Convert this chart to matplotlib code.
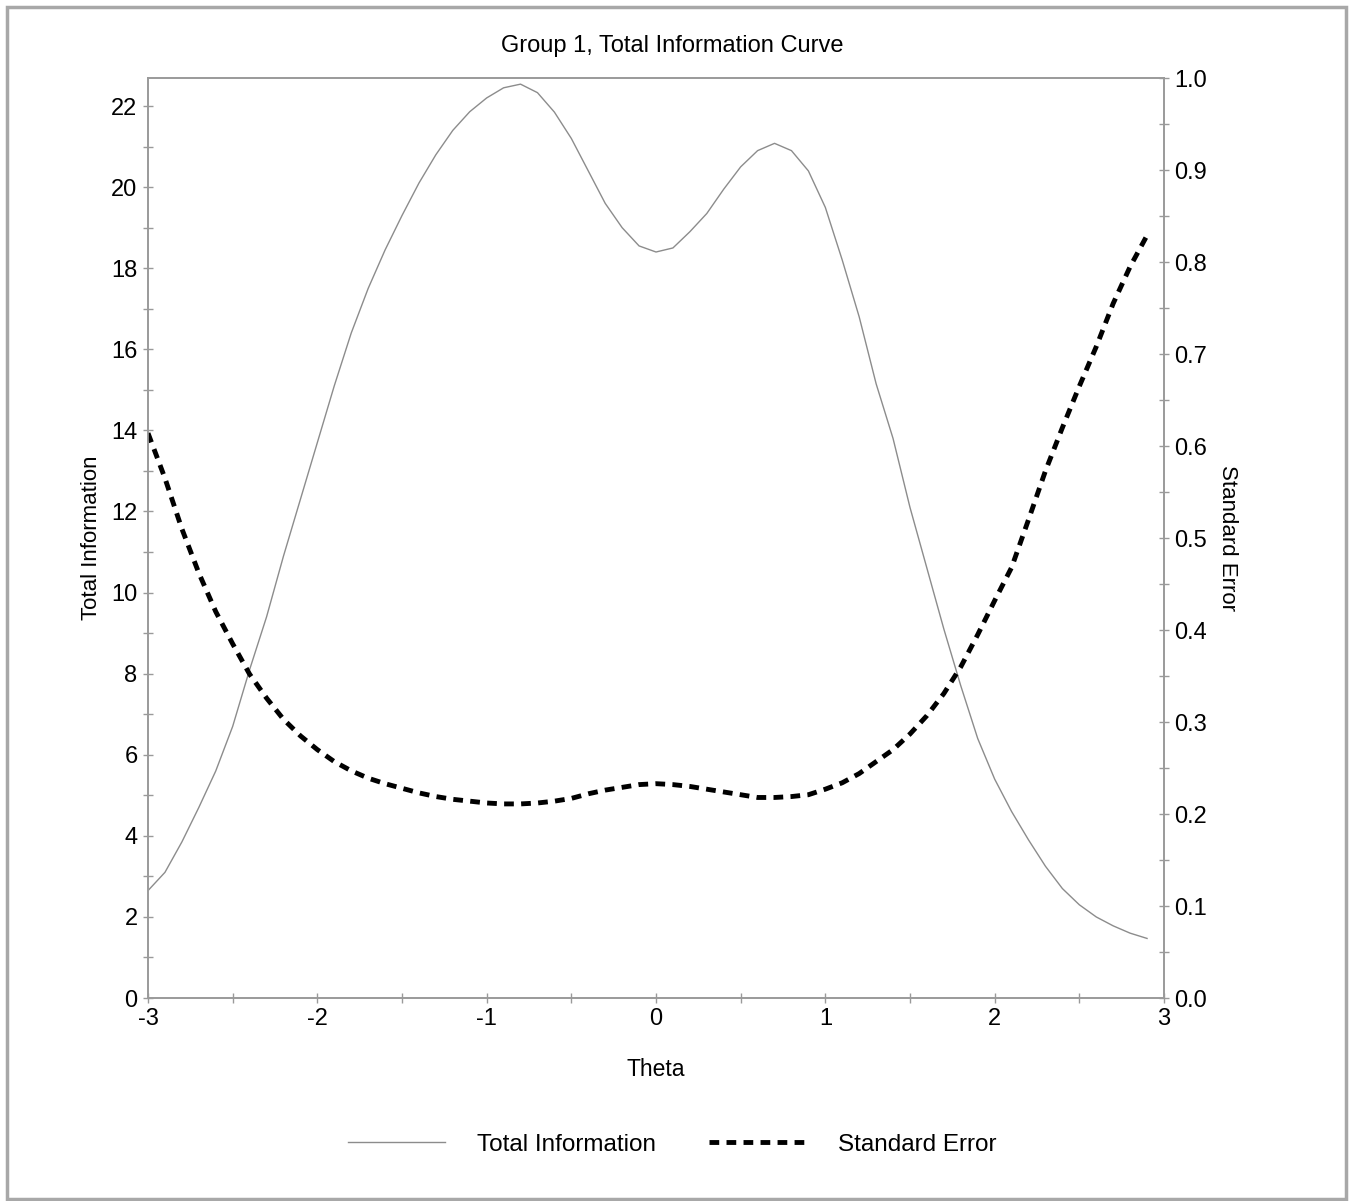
import matplotlib
matplotlib.use('Agg')
import matplotlib.pyplot as plt
from matplotlib.ticker import MultipleLocator, FormatStrFormatter
from matplotlib.patches import Rectangle

plt.rcParams['font.family'] = ['Liberation Sans', 'DejaVu Sans']
plt.rcParams['axes.unicode_minus'] = False

# theta grid (step 0.1)
theta = [-3.0, -2.9, -2.8, -2.7, -2.6, -2.5, -2.4, -2.3, -2.2, -2.1,
         -2.0, -1.9, -1.8, -1.7, -1.6, -1.5, -1.4, -1.3, -1.2, -1.1,
         -1.0, -0.9, -0.8, -0.7, -0.6, -0.5, -0.4, -0.3, -0.2, -0.1,
         0.0, 0.1, 0.2, 0.3, 0.4, 0.5, 0.6, 0.7, 0.8, 0.9,
         1.0, 1.1, 1.2, 1.3, 1.4, 1.5, 1.6, 1.7, 1.8, 1.9,
         2.0, 2.1, 2.2, 2.3, 2.4, 2.5, 2.6, 2.7, 2.8, 2.9]

total_info = [2.65, 3.1, 3.85, 4.7, 5.6, 6.7, 8.1, 9.4, 10.9, 12.3,
              13.7, 15.1, 16.4, 17.5, 18.45, 19.3, 20.1, 20.8, 21.4, 21.86,
              22.2, 22.45, 22.54, 22.33, 21.85, 21.2, 20.4, 19.6, 19.0, 18.55,
              18.4, 18.5, 18.9, 19.35, 19.95, 20.5, 20.9, 21.08, 20.9, 20.4,
              19.5, 18.2, 16.8, 15.15, 13.8, 12.1, 10.6, 9.1, 7.7, 6.4,
              5.4, 4.6, 3.9, 3.25, 2.7, 2.3, 2.0, 1.78, 1.6, 1.47]

std_error = [0.614, 0.565, 0.51, 0.462, 0.42, 0.385, 0.352, 0.326, 0.303, 0.285,
             0.27, 0.257, 0.247, 0.239, 0.233, 0.228, 0.223, 0.219, 0.216, 0.214,
             0.212, 0.211, 0.211, 0.212, 0.214, 0.217, 0.222, 0.226, 0.229, 0.232,
             0.233, 0.232, 0.23, 0.227, 0.224, 0.221, 0.218, 0.218, 0.219, 0.221,
             0.227, 0.234, 0.244, 0.257, 0.27, 0.287, 0.307, 0.331, 0.36, 0.395,
             0.432, 0.468, 0.52, 0.573, 0.62, 0.665, 0.708, 0.755, 0.795, 0.829]

gray = '#9a9a9a'

fig = plt.figure(figsize=(13.53, 12.01), dpi=100)
ax = fig.add_axes([0.1094, 0.169, 0.7509, 0.766])
ax2 = ax.twinx()

l1, = ax.plot(theta, total_info, color='#8c8c8c', lw=1.0, label='Total Information')
l2, = ax2.plot(theta, std_error, color='black', lw=3.5, dashes=(2, 1.5),
               label='Standard Error')

ax.set_xlim(-3, 3)
ax.set_ylim(0, 22.69)
ax2.set_ylim(0, 1.0)

ax.xaxis.set_major_locator(MultipleLocator(1))
ax.xaxis.set_minor_locator(MultipleLocator(0.5))
ax.yaxis.set_major_locator(MultipleLocator(2))
ax.yaxis.set_minor_locator(MultipleLocator(1))
ax2.yaxis.set_major_locator(MultipleLocator(0.1))
ax2.yaxis.set_minor_locator(MultipleLocator(0.05))
ax2.yaxis.set_major_formatter(FormatStrFormatter('%.1f'))

for a in (ax, ax2):
    for s in a.spines.values():
        s.set_color(gray)
        s.set_linewidth(1.2)
    a.tick_params(which='both', direction='inout', length=7, width=1,
                  color=gray, labelsize=17, pad=4)

ax.set_xlabel('Theta', fontsize=16.5, labelpad=20)
ax.set_ylabel('Total Information', fontsize=16, labelpad=7)
ax2.set_ylabel('Standard Error', fontsize=16, rotation=-90, labelpad=22)
fig.text(0.497, 0.962, 'Group 1, Total Information Curve', ha='center',
         va='center', fontsize=17)

fig.legend(handles=[l1, l2], loc='center', bbox_to_anchor=(0.497, 0.047),
           ncol=2, frameon=False, fontsize=17.5, handlelength=4.0,
           handletextpad=1.3, columnspacing=2.2)

# grey page border
fig.patches.append(Rectangle((0.005, 0.002), 0.99, 0.992, transform=fig.transFigure,
                             fill=False, edgecolor='#a8a8a8', lw=2.5))

fig.savefig('out.png', dpi=100)
